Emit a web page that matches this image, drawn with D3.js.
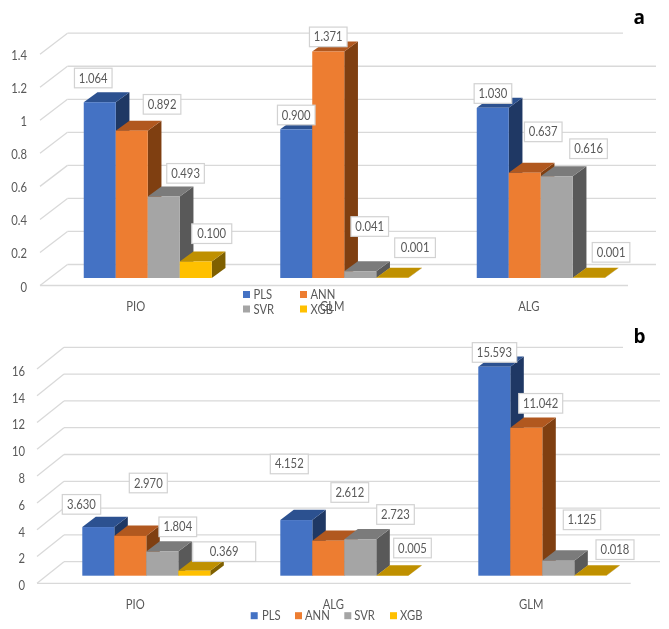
<!DOCTYPE html>
<html><head><meta charset="utf-8">
<script src="https://cdn.jsdelivr.net/npm/d3@7"></script>
<style>
html,body{margin:0;padding:0;background:#fff}
svg{display:block;filter:blur(0.4px)}
text{font-family:Lato,"Noto Sans",sans-serif;fill:#595959}
</style></head><body>
<svg id="c" width="669" height="629"></svg>
<script>
// ---- data ----
const seriesNames = ["PLS","ANN","SVR","XGB"];

const categoriesA = ["PIO","GLM","ALG"];
const plsA = [1.064,0.900,1.030];
const annA = [0.892,1.371,0.637];
const svrA = [0.493,0.041,0.616];
const xgbA = [0.100,0.001,0.001];
const ticksA = [0,0.2,0.4,0.6,0.8,1,1.2,1.4];

const categoriesB = ["PIO","ALG","GLM"];
const plsB = [3.630,4.152,15.593];
const annB = [2.970,2.612,11.042];
const svrB = [1.804,2.723,1.125];
const xgbB = [0.369,0.005,0.018];
const ticksB = [0,2,4,6,8,10,12,14,16];

// ---- styles ----
const faces = {
  PLS:{front:"#4472C4",top:"#2C5190",side:"#1F3864"},
  ANN:{front:"#ED7D31",top:"#B1581F",side:"#7F3F11"},
  SVR:{front:"#A5A5A5",top:"#7B7B7B",side:"#595959"},
  XGB:{front:"#FFC000",top:"#BF9000",side:"#7F6000"}
};

// label box offsets from each bar's top-centre, and box widths: [dx,dy,w] by series then category
const labelLayoutA = {
  PLS:[[-6.5,-24.2,37.6],[0,-14.3,37.6],[0.2,-14.3,37.6]],
  ANN:[[30.3,-26.3,37.6],[0,-14.6,37.6],[18.5,-40.9,37.6]],
  SVR:[[21.8,-23.2,37.6],[9.5,-44.7,37.6],[31.8,-27.5,37.6]],
  XGB:[[16,-27.8,40],[22.8,-30.1,40.7],[22.3,-25.5,37.6]]
};
const labelLayoutB = {
  PLS:[[-16.8,-22.7,38.4],[-7,-56.1,38],[0.2,-14.3,44.4]],
  ANN:[[18,-52.9,38],[21.5,-48.2,37.7],[14.4,-24.4,44]],
  SVR:[[15.5,-24.7,37.7],[35.2,-24.7,37.6],[23.7,-40.8,37.4]],
  XGB:[[29.9,-19.1,63],[20.2,-27.6,37.6],[24.7,-25.8,38]]
};

const svg = d3.select("#c");
const FONT = 12.5, NARROW = 0.9;

// Squeeze Lato towards the narrower proportions of the reference's face
function narrow(sel){
  sel.each(function(){
    this.setAttribute("textLength",(this.getComputedTextLength()*NARROW).toFixed(2));
    this.setAttribute("lengthAdjust","spacingAndGlyphs");
  });
}

function panel(o){
  const g = svg.append("g");
  const values = {PLS:o.pls,ANN:o.ann,SVR:o.svr,XGB:o.xgb};
  const y = d3.scaleLinear().domain([0,o.ticks[o.ticks.length-1]]).range([o.floor,o.floor-o.plot]);
  const x = d3.scaleBand().domain(o.cats).range(o.xr);
  const bx = d3.scaleBand().domain(seriesNames).range([-o.barW*2,o.barW*2]);

  // floor + walls
  const grid = g.append("g").attr("fill","none").attr("stroke","#D9D9D9").attr("stroke-width",1.3);
  grid.selectAll("line.b").data(o.ticks).join("line")
    .attr("x1",o.left+o.wallDx).attr("x2",(d,i)=>i===o.ticks.length-1?o.topEnd:o.right)
    .attr("y1",d=>y(d)-o.wallDy).attr("y2",d=>y(d)-o.wallDy);
  grid.selectAll("line.d").data(o.ticks).join("line")
    .attr("x1",o.left).attr("x2",o.left+o.wallDx)
    .attr("y1",d=>y(d)).attr("y2",d=>y(d)-o.wallDy);
  grid.append("line").attr("x1",o.left).attr("x2",o.floorEnd).attr("y1",y(0)).attr("y2",y(0));

  // 3D bars
  const barBase = o.barLift;
  seriesNames.forEach(s=>{
    const f = faces[s];
    o.cats.forEach((c,i)=>{
      const v = values[s][i];
      const x0 = x(c)+x.bandwidth()/2+bx(s), x1 = x0+bx.bandwidth();
      const yb = y(0)-barBase, yt = y(v)-barBase;
      const dx=o.dDx, dy=o.dDy;
      const b = g.append("g");
      b.append("path").attr("fill",f.side)
        .attr("d",d3.line()([[x1,yb],[x1+dx,yb-dy],[x1+dx,yt-dy],[x1,yt]]));
      b.append("path").attr("fill",f.top)
        .attr("d",d3.line()([[x0,yt],[x0+dx,yt-dy],[x1+dx,yt-dy],[x1,yt]]));
      b.append("rect").attr("fill",f.front).attr("x",x0).attr("y",yt)
        .attr("width",bx.bandwidth()).attr("height",yb-yt);
    });
  });

  // value labels
  seriesNames.forEach(s=>{
    o.cats.forEach((c,i)=>{
      const v = values[s][i];
      const [ox,oy,w] = o.layout[s][i];
      const cx = x(c)+x.bandwidth()/2+bx(s)+bx.bandwidth()/2+ox;
      const cy = y(v)-barBase+oy;
      g.append("rect").attr("x",cx-w/2).attr("y",cy-9.8).attr("width",w).attr("height",19.6)
        .attr("fill","#fff").attr("stroke","#D2D2D2").attr("stroke-width",1.2);
      g.append("text").attr("x",cx).attr("y",cy).attr("dy","0.36em").attr("text-anchor","middle")
        .attr("font-size",FONT).text(d3.format(".3f")(v)).call(narrow);
    });
  });

  // y axis labels
  const ax = g.append("g").attr("transform",`translate(${o.axisX},${o.axisDy})`)
    .call(d3.axisLeft(y).tickValues(o.ticks).tickSize(0).tickPadding(0).tickFormat(d3.format("~g")));
  ax.select(".domain").remove();
  ax.attr("font-family",null).attr("font-size",null);
  ax.selectAll("text").attr("font-size",FONT).style("fill","#595959").call(narrow);

  // category labels
  const cx = g.append("g").attr("transform",`translate(${o.catDx},${o.catY})`)
    .call(d3.axisBottom(x).tickSize(0).tickPadding(0));
  cx.select(".domain").remove();
  cx.attr("font-family",null).attr("font-size",null);
  cx.selectAll("text").attr("font-size",FONT).attr("dy","0.36em").attr("y",0).style("fill","#595959").call(narrow);

  // legend
  const lg = g.append("g");
  seriesNames.forEach((s,i)=>{
    const p = o.legend[i];
    lg.append("rect").attr("x",p[0]).attr("y",p[1]-3.5).attr("width",7).attr("height",7).attr("fill",faces[s].front);
    lg.append("text").attr("x",p[0]+p[2]).attr("y",p[1]).attr("dy","0.36em").attr("font-size",FONT).text(s).call(narrow);
  });

  // panel letter
  g.append("text").attr("x",o.tagX).attr("y",o.tagY).attr("font-size",19).attr("font-weight",700)
    .style("font-family","'Open Sans',sans-serif").style("fill","#000").text(o.tag);
}

panel({
  cats:categoriesA,pls:plsA,ann:annA,svr:svrA,xgb:xgbA,ticks:ticksA,layout:labelLayoutA,
  floor:285.5,plot:231.3,xr:[49.5,639],barW:32,left:40,wallDx:27.5,wallDy:21,right:656,topEnd:623,floorEnd:628,
  barLift:7.5,dDx:13.7,dDy:10,axisX:27,axisDy:1.5,catDx:-12,catY:306,
  legend:[[243,294.5,10.5],[300,294.5,10.5],[243,309,10.5],[300,309,10.5]],
  tag:"a",tagX:633.5,tagY:24
});
panel({
  cats:categoriesB,pls:plsB,ann:annB,svr:svrB,xgb:xgbB,ticks:ticksB,layout:labelLayoutB,
  floor:583.3,plot:214.4,xr:[47.3,641.3],barW:32,left:37,wallDx:27,wallDy:21.6,right:660,topEnd:623,floorEnd:630.7,
  barLift:7.6,dDx:13.5,dDy:10.3,axisX:25,axisDy:2.4,catDx:-11,catY:604,
  legend:[[250.7,615.7,11.3],[295,615.7,10],[344.3,615.7,10],[390,615.7,10]],
  tag:"b",tagX:633.5,tagY:343
});
</script>
</body></html>
